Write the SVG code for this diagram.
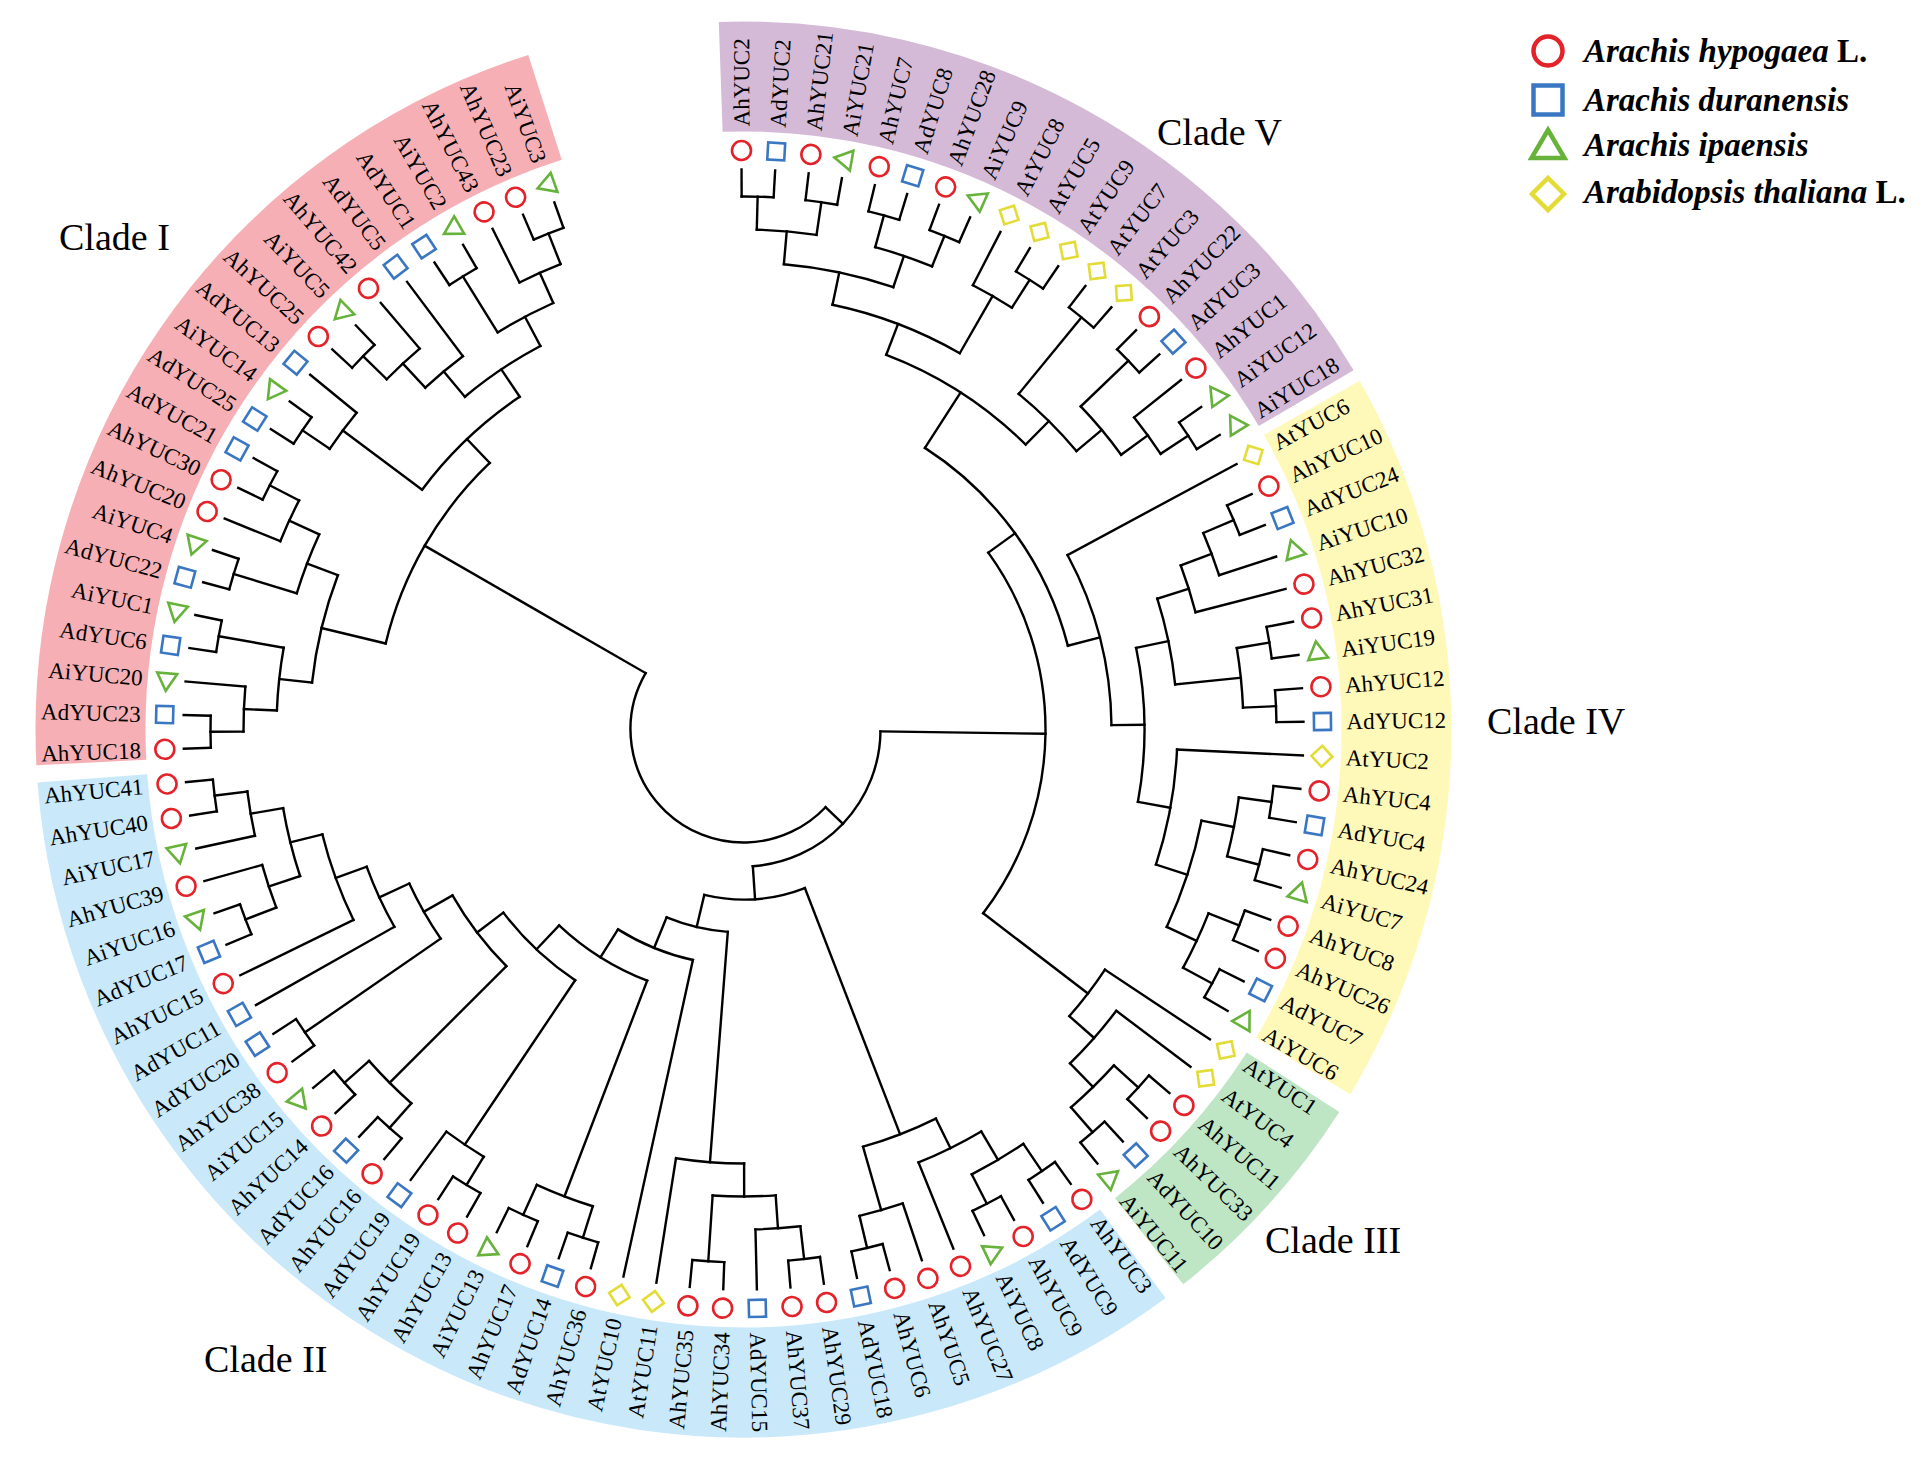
<svg xmlns="http://www.w3.org/2000/svg" width="1925" height="1458" viewBox="0 0 1925 1458">
<style>
.lb text{font-family:"Liberation Serif","Times New Roman",serif;font-size:23px;fill:#000}
.f{text-anchor:end}
.clade{font-family:"Liberation Serif","Times New Roman",serif;font-size:38px;fill:#000}
.leg{font-family:"Liberation Serif","Times New Roman",serif;font-size:33px;font-weight:bold;font-style:italic;fill:#000}
.band{fill:none;stroke-width:110}
</style>
<defs>
<line id="t" x1="533" x2="560"/>
<line id="t2" x1="500" x2="560"/>
<line id="u" x1="500" x2="533"/>
<line id="w" x1="467" x2="500"/>
<line id="x" x1="434" x2="467"/>
<line id="y" x1="401" x2="434"/>
<circle id="c1" r="533" pathLength="360" stroke-dasharray="3.44 360"/>
<circle id="c2a" r="500" pathLength="360" stroke-dasharray="6.88 360"/>
<circle id="c2b" r="500" pathLength="360" stroke-dasharray="5.16 360"/>
<circle id="sc" cx="579" r="9.5" fill="none" stroke="#E42229" stroke-width="2.6"/>
<rect id="ss" x="570.5" y="-8.5" width="17" height="17" fill="none" stroke="#3A77C2" stroke-width="2.6"/>
<polygon id="st" points="579,-11 589,6.5 569,6.5" fill="none" stroke="#66B23A" stroke-width="2.6"/>
<polygon id="sd" points="579,-10.5 589.5,0 579,10.5 568.5,0" fill="none" stroke="#E3DC36" stroke-width="2.6"/>
</defs>
<rect width="1925" height="1458" fill="#fff"/>
<g id="bands" transform="translate(743.5 729.5)">
<circle class="band" r="653" stroke="#D4BAD6" pathLength="360" stroke-dasharray="61.5 360" transform="rotate(-92)"/>
<circle class="band" r="653" stroke="#FFF9B9" pathLength="360" stroke-dasharray="60.5 360" transform="rotate(-29.5)"/>
<circle class="band" r="653" stroke="#BEE5C4" pathLength="360" stroke-dasharray="18.9 360" transform="rotate(32.7)"/>
<circle class="band" r="653" stroke="#C9E9FA" pathLength="360" stroke-dasharray="122.3 360" transform="rotate(53.4)"/>
<circle class="band" r="653" stroke="#F6B0B5" pathLength="360" stroke-dasharray="75.2 360" transform="rotate(177.1)"/>
</g>
<g id="branches" fill="none" stroke="#000" stroke-width="2.4" stroke-linecap="square" transform="translate(743.5 729.5)">
<use href="#t" transform="rotate(-90.20)"/><use href="#t" transform="rotate(-86.76)"/><use href="#t" transform="rotate(-83.32)"/><use href="#t" transform="rotate(-79.88)"/><use href="#t" transform="rotate(-76.44)"/><use href="#t" transform="rotate(-73.01)"/><use href="#t" transform="rotate(-69.57)"/><use href="#t" transform="rotate(-66.13)"/><use href="#t" transform="rotate(-59.25)"/><use href="#t" transform="rotate(-55.81)"/><use href="#t" transform="rotate(-52.37)"/><use href="#t" transform="rotate(-48.93)"/><use href="#t" transform="rotate(-45.49)"/><use href="#t" transform="rotate(-42.05)"/><use href="#t" transform="rotate(-35.18)"/><use href="#t" transform="rotate(-31.74)"/><use href="#t" transform="rotate(-24.86)"/><use href="#t" transform="rotate(-21.42)"/><use href="#t" transform="rotate(-11.10)"/><use href="#t" transform="rotate(-7.66)"/><use href="#t" transform="rotate(-4.23)"/><use href="#t" transform="rotate(-0.79)"/><use href="#t" transform="rotate(6.09)"/><use href="#t" transform="rotate(9.53)"/><use href="#t" transform="rotate(12.97)"/><use href="#t" transform="rotate(16.41)"/><use href="#t" transform="rotate(19.85)"/><use href="#t" transform="rotate(23.29)"/><use href="#t" transform="rotate(26.73)"/><use href="#t" transform="rotate(30.17)"/><use href="#t" transform="rotate(40.48)"/><use href="#t" transform="rotate(43.92)"/><use href="#t" transform="rotate(47.36)"/><use href="#t" transform="rotate(50.80)"/><use href="#t" transform="rotate(54.24)"/><use href="#t" transform="rotate(57.68)"/><use href="#t" transform="rotate(61.12)"/><use href="#t" transform="rotate(64.56)"/><use href="#t" transform="rotate(74.87)"/><use href="#t" transform="rotate(78.31)"/><use href="#t" transform="rotate(81.75)"/><use href="#t" transform="rotate(85.19)"/><use href="#t" transform="rotate(92.07)"/><use href="#t" transform="rotate(95.51)"/><use href="#t" transform="rotate(105.82)"/><use href="#t" transform="rotate(109.26)"/><use href="#t" transform="rotate(112.70)"/><use href="#t" transform="rotate(116.14)"/><use href="#t" transform="rotate(119.58)"/><use href="#t" transform="rotate(123.02)"/><use href="#t" transform="rotate(129.90)"/><use href="#t" transform="rotate(133.34)"/><use href="#t" transform="rotate(136.77)"/><use href="#t" transform="rotate(140.21)"/><use href="#t" transform="rotate(143.65)"/><use href="#t" transform="rotate(147.09)"/><use href="#t" transform="rotate(157.41)"/><use href="#t" transform="rotate(160.85)"/><use href="#t" transform="rotate(171.16)"/><use href="#t" transform="rotate(174.60)"/><use href="#t" transform="rotate(178.04)"/><use href="#t" transform="rotate(181.48)"/><use href="#t" transform="rotate(188.36)"/><use href="#t" transform="rotate(191.80)"/><use href="#t" transform="rotate(195.24)"/><use href="#t" transform="rotate(198.68)"/><use href="#t" transform="rotate(205.55)"/><use href="#t" transform="rotate(208.99)"/><use href="#t" transform="rotate(212.43)"/><use href="#t" transform="rotate(215.87)"/><use href="#t" transform="rotate(222.75)"/><use href="#t" transform="rotate(226.19)"/><use href="#t" transform="rotate(236.51)"/><use href="#t" transform="rotate(239.95)"/><use href="#t" transform="rotate(246.82)"/><use href="#t" transform="rotate(250.26)"/>
<use href="#t2" transform="rotate(-62.69)"/><use href="#t2" transform="rotate(-38.62)"/><use href="#t2" transform="rotate(-17.98)"/><use href="#t2" transform="rotate(71.43)"/><use href="#t2" transform="rotate(88.63)"/><use href="#t2" transform="rotate(126.46)"/><use href="#t2" transform="rotate(164.29)"/><use href="#t2" transform="rotate(167.73)"/><use href="#t2" transform="rotate(184.92)"/><use href="#t2" transform="rotate(202.12)"/><use href="#t2" transform="rotate(219.31)"/><use href="#t2" transform="rotate(229.63)"/><use href="#t2" transform="rotate(243.38)"/>
<line x1="368" x2="560" transform="rotate(-28.30)"/><line x1="467" x2="560" transform="rotate(-14.54)"/><line x1="434" x2="560" transform="rotate(2.65)"/><line x1="434" x2="560" transform="rotate(33.60)"/><line x1="467" x2="560" transform="rotate(37.04)"/><line x1="467" x2="560" transform="rotate(67.99)"/><line x1="434" x2="560" transform="rotate(98.95)"/><line x1="236" x2="560" transform="rotate(102.38)"/><line x1="401" x2="560" transform="rotate(150.53)"/><line x1="434" x2="560" transform="rotate(153.97)"/><line x1="467" x2="560" transform="rotate(233.07)"/>
<use href="#u" transform="rotate(-88.48)"/><use href="#u" transform="rotate(-81.60)"/><use href="#u" transform="rotate(-74.725)"/><use href="#u" transform="rotate(-67.85)"/><use href="#u" transform="rotate(-57.53)"/><use href="#u" transform="rotate(-33.46)"/><use href="#u" transform="rotate(-23.14)"/><use href="#u" transform="rotate(-9.38)"/><use href="#u" transform="rotate(-2.51)"/><use href="#u" transform="rotate(7.81)"/><use href="#u" transform="rotate(14.69)"/><use href="#u" transform="rotate(21.57)"/><use href="#u" transform="rotate(28.45)"/><use href="#u" transform="rotate(42.20)"/><use href="#u" transform="rotate(49.08)"/><use href="#u" transform="rotate(55.96)"/><use href="#u" transform="rotate(62.84)"/><use href="#u" transform="rotate(76.59)"/><use href="#u" transform="rotate(83.47)"/><use href="#u" transform="rotate(107.54)"/><use href="#u" transform="rotate(114.42)"/><use href="#u" transform="rotate(121.30)"/><use href="#u" transform="rotate(131.62)"/><use href="#u" transform="rotate(138.49)"/><use href="#u" transform="rotate(159.13)"/><use href="#u" transform="rotate(172.88)"/><use href="#u" transform="rotate(179.76)"/><use href="#u" transform="rotate(207.27)"/><use href="#u" transform="rotate(214.15)"/><use href="#u" transform="rotate(224.47)"/><use href="#u" transform="rotate(248.54)"/>
<line x1="434" x2="533" transform="rotate(-50.65)"/><line x1="467" x2="533" transform="rotate(-43.77)"/><line x1="467" x2="533" transform="rotate(93.79)"/><line x1="368" x2="533" transform="rotate(145.37)"/><line x1="467" x2="533" transform="rotate(190.08)"/><line x1="467" x2="533" transform="rotate(196.96)"/><line x1="467" x2="533" transform="rotate(238.23)"/>
<use href="#w" transform="rotate(-85.04)"/><use href="#w" transform="rotate(-71.29)"/><use href="#w" transform="rotate(-36.04)"/><use href="#w" transform="rotate(-20.56)"/><use href="#w" transform="rotate(11.25)"/><use href="#w" transform="rotate(25.01)"/><use href="#w" transform="rotate(45.64)"/><use href="#w" transform="rotate(59.40)"/><use href="#w" transform="rotate(86.05)"/><use href="#w" transform="rotate(161.71)"/><use href="#w" transform="rotate(170.305)"/><use href="#w" transform="rotate(182.34)"/><use href="#w" transform="rotate(204.695)"/><use href="#w" transform="rotate(227.05)"/><use href="#w" transform="rotate(245.96)"/>
<line x1="434" x2="500" transform="rotate(-60.11)"/><line x1="434" x2="500" transform="rotate(-5.945)"/><line x1="434" x2="500" transform="rotate(74.01)"/><line x1="269" x2="500" transform="rotate(110.98)"/><line x1="302" x2="500" transform="rotate(123.88)"/><line x1="335" x2="500" transform="rotate(135.055)"/><line x1="401" x2="500" transform="rotate(216.73)"/>
<use href="#x" transform="rotate(-78.165)"/><use href="#x" transform="rotate(-39.905)"/><use href="#x" transform="rotate(-17.55)"/><use href="#x" transform="rotate(18.13)"/><use href="#x" transform="rotate(41.34)"/><use href="#x" transform="rotate(63.695)"/><use href="#x" transform="rotate(89.92)"/><use href="#x" transform="rotate(166.01)"/><use href="#x" transform="rotate(186.21)"/><use href="#x" transform="rotate(200.83)"/><use href="#x" transform="rotate(230.06)"/><use href="#x" transform="rotate(242.095)"/>
<use href="#y" transform="rotate(-69.14)"/><use href="#y" transform="rotate(-45.28)"/><use href="#y" transform="rotate(-11.75)"/><use href="#y" transform="rotate(10.39)"/><use href="#y" transform="rotate(159.99)"/><use href="#y" transform="rotate(236.08)"/>
<line x1="302" x2="434" transform="rotate(37.47)"/><line x1="170" x2="434" transform="rotate(68.85)"/><line x1="203" x2="434" transform="rotate(94.435)"/><line x1="368" x2="434" transform="rotate(193.52)"/>
<line x1="335" x2="401" transform="rotate(-57.21)"/><line x1="368" x2="401" transform="rotate(-0.68)"/><line x1="368" x2="401" transform="rotate(155.26)"/><line x1="368" x2="401" transform="rotate(226.405)"/>
<line x1="335" x2="368" transform="rotate(-14.49)"/><line x1="335" x2="368" transform="rotate(150.315)"/><line x1="113" x2="368" transform="rotate(209.96)"/>
<line x1="302" x2="335" transform="rotate(-35.85)"/><line x1="302" x2="335" transform="rotate(142.685)"/>
<line x1="137" x2="302" transform="rotate(0.81)"/><line x1="269" x2="302" transform="rotate(133.28)"/>
<line x1="236" x2="269" transform="rotate(122.13)"/><line x1="203" x2="236" transform="rotate(112.255)"/><line x1="170" x2="203" transform="rotate(103.345)"/><line x1="137" x2="170" transform="rotate(86.10)"/><line x1="113" x2="137" transform="rotate(43.455)"/>
<use href="#c1" transform="rotate(-90.20)"/><use href="#c1" transform="rotate(-83.32)"/><use href="#c1" transform="rotate(-76.44)"/><use href="#c1" transform="rotate(-69.57)"/><use href="#c1" transform="rotate(-59.25)"/><use href="#c1" transform="rotate(-52.37)"/><use href="#c1" transform="rotate(-45.49)"/><use href="#c1" transform="rotate(-35.18)"/><use href="#c1" transform="rotate(-24.86)"/><use href="#c1" transform="rotate(-11.10)"/><use href="#c1" transform="rotate(-4.23)"/><use href="#c1" transform="rotate(6.09)"/><use href="#c1" transform="rotate(12.97)"/><use href="#c1" transform="rotate(19.85)"/><use href="#c1" transform="rotate(26.73)"/><use href="#c1" transform="rotate(40.48)"/><use href="#c1" transform="rotate(47.36)"/><use href="#c1" transform="rotate(54.24)"/><use href="#c1" transform="rotate(61.12)"/><use href="#c1" transform="rotate(74.87)"/><use href="#c1" transform="rotate(81.75)"/><use href="#c1" transform="rotate(92.07)"/><use href="#c1" transform="rotate(105.82)"/><use href="#c1" transform="rotate(112.70)"/><use href="#c1" transform="rotate(119.58)"/><use href="#c1" transform="rotate(129.90)"/><use href="#c1" transform="rotate(136.77)"/><use href="#c1" transform="rotate(143.65)"/><use href="#c1" transform="rotate(157.41)"/><use href="#c1" transform="rotate(171.16)"/><use href="#c1" transform="rotate(178.04)"/><use href="#c1" transform="rotate(188.36)"/><use href="#c1" transform="rotate(195.24)"/><use href="#c1" transform="rotate(205.55)"/><use href="#c1" transform="rotate(212.43)"/><use href="#c1" transform="rotate(222.75)"/><use href="#c1" transform="rotate(236.51)"/><use href="#c1" transform="rotate(246.82)"/>
<use href="#c2a" transform="rotate(-88.48)"/><use href="#c2a" transform="rotate(-74.725)"/><use href="#c2a" transform="rotate(-9.38)"/><use href="#c2a" transform="rotate(7.81)"/><use href="#c2a" transform="rotate(21.57)"/><use href="#c2a" transform="rotate(42.20)"/><use href="#c2a" transform="rotate(55.96)"/><use href="#c2a" transform="rotate(107.54)"/><use href="#c2a" transform="rotate(131.62)"/>
<use href="#c2b" transform="rotate(-62.69)"/><use href="#c2b" transform="rotate(-38.62)"/><use href="#c2b" transform="rotate(-23.14)"/><use href="#c2b" transform="rotate(71.43)"/><use href="#c2b" transform="rotate(83.47)"/><use href="#c2b" transform="rotate(121.30)"/><use href="#c2b" transform="rotate(159.13)"/><use href="#c2b" transform="rotate(167.73)"/><use href="#c2b" transform="rotate(179.76)"/><use href="#c2b" transform="rotate(202.12)"/><use href="#c2b" transform="rotate(214.15)"/><use href="#c2b" transform="rotate(224.47)"/><use href="#c2b" transform="rotate(243.38)"/>
<circle r="467" pathLength="360" stroke-dasharray="13.75 360" transform="rotate(-85.04)"/>
<circle r="467" pathLength="360" stroke-dasharray="7.73 360" transform="rotate(-43.77)"/>
<circle r="467" pathLength="360" stroke-dasharray="6.02 360" transform="rotate(-20.56)"/>
<circle r="467" pathLength="360" stroke-dasharray="13.76 360" transform="rotate(11.25)"/>
<circle r="467" pathLength="360" stroke-dasharray="8.60 360" transform="rotate(37.04)"/>
<circle r="467" pathLength="360" stroke-dasharray="8.59 360" transform="rotate(59.40)"/>
<circle r="467" pathLength="360" stroke-dasharray="7.74 360" transform="rotate(86.05)"/>
<circle r="467" pathLength="360" stroke-dasharray="8.595 360" transform="rotate(161.71)"/>
<circle r="467" pathLength="360" stroke-dasharray="7.74 360" transform="rotate(182.34)"/>
<circle r="467" pathLength="360" stroke-dasharray="7.735 360" transform="rotate(196.96)"/>
<circle r="467" pathLength="360" stroke-dasharray="6.02 360" transform="rotate(227.05)"/>
<circle r="467" pathLength="360" stroke-dasharray="7.73 360" transform="rotate(238.23)"/>
<circle r="434" pathLength="360" stroke-dasharray="18.055 360" transform="rotate(-78.165)"/>
<circle r="434" pathLength="360" stroke-dasharray="10.745 360" transform="rotate(-50.65)"/>
<circle r="434" pathLength="360" stroke-dasharray="11.605 360" transform="rotate(-17.55)"/>
<circle r="434" pathLength="360" stroke-dasharray="15.48 360" transform="rotate(2.65)"/>
<circle r="434" pathLength="360" stroke-dasharray="7.74 360" transform="rotate(33.60)"/>
<circle r="434" pathLength="360" stroke-dasharray="10.315 360" transform="rotate(63.695)"/>
<circle r="434" pathLength="360" stroke-dasharray="9.03 360" transform="rotate(89.92)"/>
<circle r="434" pathLength="360" stroke-dasharray="12.04 360" transform="rotate(153.97)"/>
<circle r="434" pathLength="360" stroke-dasharray="14.62 360" transform="rotate(186.21)"/>
<circle r="434" pathLength="360" stroke-dasharray="12.035 360" transform="rotate(230.06)"/>
<circle r="401" pathLength="360" stroke-dasharray="23.86 360" transform="rotate(-69.14)"/>
<circle r="401" pathLength="360" stroke-dasharray="22.14 360" transform="rotate(-11.75)"/>
<circle r="401" pathLength="360" stroke-dasharray="9.46 360" transform="rotate(150.53)"/>
<circle r="401" pathLength="360" stroke-dasharray="19.35 360" transform="rotate(216.73)"/>
<circle r="368" pathLength="360" stroke-dasharray="27.62 360" transform="rotate(-28.30)"/>
<circle r="368" pathLength="360" stroke-dasharray="9.89 360" transform="rotate(145.37)"/>
<circle r="368" pathLength="360" stroke-dasharray="32.885 360" transform="rotate(193.52)"/>
<circle r="335" pathLength="360" stroke-dasharray="42.72 360" transform="rotate(-57.21)"/>
<circle r="335" pathLength="360" stroke-dasharray="15.26 360" transform="rotate(135.055)"/>
<circle r="302" pathLength="360" stroke-dasharray="73.32 360" transform="rotate(-35.85)"/>
<circle r="302" pathLength="360" stroke-dasharray="18.805 360" transform="rotate(123.88)"/>
<circle r="269" pathLength="360" stroke-dasharray="22.30 360" transform="rotate(110.98)"/>
<circle r="236" pathLength="360" stroke-dasharray="19.75 360" transform="rotate(102.38)"/>
<circle r="203" pathLength="360" stroke-dasharray="17.82 360" transform="rotate(94.435)"/>
<circle r="170" pathLength="360" stroke-dasharray="34.495 360" transform="rotate(68.85)"/>
<circle r="137" pathLength="360" stroke-dasharray="85.29 360" transform="rotate(0.81)"/>
<circle r="113" pathLength="360" stroke-dasharray="166.505 360" transform="rotate(43.455)"/>
</g>
<g id="leaves" class="lb" transform="translate(743.5 729.5)">
<g id="k0" transform="rotate(-90.20)"><use href="#sc"/><text x="603" y="8">AhYUC2</text></g>
<g id="k1" transform="rotate(-86.76)"><use href="#ss"/><text x="603" y="8">AdYUC2</text></g>
<g id="k2" transform="rotate(-83.32)"><use href="#sc"/><text x="603" y="8">AhYUC21</text></g>
<g id="k3" transform="rotate(-79.88)"><use href="#st"/><text x="603" y="8">AiYUC21</text></g>
<g id="k4" transform="rotate(-76.44)"><use href="#sc"/><text x="603" y="8">AhYUC7</text></g>
<g id="k5" transform="rotate(-73.01)"><use href="#ss"/><text x="603" y="8">AdYUC8</text></g>
<g id="k6" transform="rotate(-69.57)"><use href="#sc"/><text x="603" y="8">AhYUC28</text></g>
<g id="k7" transform="rotate(-66.13)"><use href="#st"/><text x="603" y="8">AiYUC9</text></g>
<g id="k8" transform="rotate(-62.69)"><use href="#sd"/><text x="603" y="8">AtYUC8</text></g>
<g id="k9" transform="rotate(-59.25)"><use href="#sd"/><text x="603" y="8">AtYUC5</text></g>
<g id="k10" transform="rotate(-55.81)"><use href="#sd"/><text x="603" y="8">AtYUC9</text></g>
<g id="k11" transform="rotate(-52.37)"><use href="#sd"/><text x="603" y="8">AtYUC7</text></g>
<g id="k12" transform="rotate(-48.93)"><use href="#sd"/><text x="603" y="8">AtYUC3</text></g>
<g id="k13" transform="rotate(-45.49)"><use href="#sc"/><text x="603" y="8">AhYUC22</text></g>
<g id="k14" transform="rotate(-42.05)"><use href="#ss"/><text x="603" y="8">AdYUC3</text></g>
<g id="k15" transform="rotate(-38.62)"><use href="#sc"/><text x="603" y="8">AhYUC1</text></g>
<g id="k16" transform="rotate(-35.18)"><use href="#st"/><text x="603" y="8">AiYUC12</text></g>
<g id="k17" transform="rotate(-31.74)"><use href="#st"/><text x="603" y="8">AiYUC18</text></g>
<g id="k18" transform="rotate(-28.30)"><use href="#sd"/><text x="603" y="8">AtYUC6</text></g>
<g id="k19" transform="rotate(-24.86)"><use href="#sc"/><text x="603" y="8">AhYUC10</text></g>
<g id="k20" transform="rotate(-21.42)"><use href="#ss"/><text x="603" y="8">AdYUC24</text></g>
<g id="k21" transform="rotate(-17.98)"><use href="#st"/><text x="603" y="8">AiYUC10</text></g>
<g id="k22" transform="rotate(-14.54)"><use href="#sc"/><text x="603" y="8">AhYUC32</text></g>
<g id="k23" transform="rotate(-11.10)"><use href="#sc"/><text x="603" y="8">AhYUC31</text></g>
<g id="k24" transform="rotate(-7.66)"><use href="#st"/><text x="603" y="8">AiYUC19</text></g>
<g id="k25" transform="rotate(-4.23)"><use href="#sc"/><text x="603" y="8">AhYUC12</text></g>
<g id="k26" transform="rotate(-0.79)"><use href="#ss"/><text x="603" y="8">AdYUC12</text></g>
<g id="k27" transform="rotate(2.65)"><use href="#sd"/><text x="603" y="8">AtYUC2</text></g>
<g id="k28" transform="rotate(6.09)"><use href="#sc"/><text x="603" y="8">AhYUC4</text></g>
<g id="k29" transform="rotate(9.53)"><use href="#ss"/><text x="603" y="8">AdYUC4</text></g>
<g id="k30" transform="rotate(12.97)"><use href="#sc"/><text x="603" y="8">AhYUC24</text></g>
<g id="k31" transform="rotate(16.41)"><use href="#st"/><text x="603" y="8">AiYUC7</text></g>
<g id="k32" transform="rotate(19.85)"><use href="#sc"/><text x="603" y="8">AhYUC8</text></g>
<g id="k33" transform="rotate(23.29)"><use href="#sc"/><text x="603" y="8">AhYUC26</text></g>
<g id="k34" transform="rotate(26.73)"><use href="#ss"/><text x="603" y="8">AdYUC7</text></g>
<g id="k35" transform="rotate(30.17)"><use href="#st"/><text x="603" y="8">AiYUC6</text></g>
<g id="k36" transform="rotate(33.60)"><use href="#sd"/><text x="603" y="8">AtYUC1</text></g>
<g id="k37" transform="rotate(37.04)"><use href="#sd"/><text x="603" y="8">AtYUC4</text></g>
<g id="k38" transform="rotate(40.48)"><use href="#sc"/><text x="603" y="8">AhYUC11</text></g>
<g id="k39" transform="rotate(43.92)"><use href="#sc"/><text x="603" y="8">AhYUC33</text></g>
<g id="k40" transform="rotate(47.36)"><use href="#ss"/><text x="603" y="8">AdYUC10</text></g>
<g id="k41" transform="rotate(50.80)"><use href="#st"/><text x="603" y="8">AiYUC11</text></g>
<g id="k42" transform="rotate(54.24)"><use href="#sc"/><text x="603" y="8">AhYUC3</text></g>
<g id="k43" transform="rotate(57.68)"><use href="#ss"/><text x="603" y="8">AdYUC9</text></g>
<g id="k44" transform="rotate(61.12)"><use href="#sc"/><text x="603" y="8">AhYUC9</text></g>
<g id="k45" transform="rotate(64.56)"><use href="#st"/><text x="603" y="8">AiYUC8</text></g>
<g id="k46" transform="rotate(67.99)"><use href="#sc"/><text x="603" y="8">AhYUC27</text></g>
<g id="k47" transform="rotate(71.43)"><use href="#sc"/><text x="603" y="8">AhYUC5</text></g>
<g id="k48" transform="rotate(74.87)"><use href="#sc"/><text x="603" y="8">AhYUC6</text></g>
<g id="k49" transform="rotate(78.31)"><use href="#ss"/><text x="603" y="8">AdYUC18</text></g>
<g id="k50" transform="rotate(81.75)"><use href="#sc"/><text x="603" y="8">AhYUC29</text></g>
<g id="k51" transform="rotate(85.19)"><use href="#sc"/><text x="603" y="8">AhYUC37</text></g>
<g id="k52" transform="rotate(88.63)"><use href="#ss"/><text x="603" y="8">AdYUC15</text></g>
<g id="k53" transform="rotate(92.07)"><use href="#sc"/><text class="f" x="-603" y="8" transform="rotate(180)">AhYUC34</text></g>
<g id="k54" transform="rotate(95.51)"><use href="#sc"/><text class="f" x="-603" y="8" transform="rotate(180)">AhYUC35</text></g>
<g id="k55" transform="rotate(98.95)"><use href="#sd"/><text class="f" x="-603" y="8" transform="rotate(180)">AtYUC11</text></g>
<g id="k56" transform="rotate(102.38)"><use href="#sd"/><text class="f" x="-603" y="8" transform="rotate(180)">AtYUC10</text></g>
<g id="k57" transform="rotate(105.82)"><use href="#sc"/><text class="f" x="-603" y="8" transform="rotate(180)">AhYUC36</text></g>
<g id="k58" transform="rotate(109.26)"><use href="#ss"/><text class="f" x="-603" y="8" transform="rotate(180)">AdYUC14</text></g>
<g id="k59" transform="rotate(112.70)"><use href="#sc"/><text class="f" x="-603" y="8" transform="rotate(180)">AhYUC17</text></g>
<g id="k60" transform="rotate(116.14)"><use href="#st"/><text class="f" x="-603" y="8" transform="rotate(180)">AiYUC13</text></g>
<g id="k61" transform="rotate(119.58)"><use href="#sc"/><text class="f" x="-603" y="8" transform="rotate(180)">AhYUC13</text></g>
<g id="k62" transform="rotate(123.02)"><use href="#sc"/><text class="f" x="-603" y="8" transform="rotate(180)">AhYUC19</text></g>
<g id="k63" transform="rotate(126.46)"><use href="#ss"/><text class="f" x="-603" y="8" transform="rotate(180)">AdYUC19</text></g>
<g id="k64" transform="rotate(129.90)"><use href="#sc"/><text class="f" x="-603" y="8" transform="rotate(180)">AhYUC16</text></g>
<g id="k65" transform="rotate(133.34)"><use href="#ss"/><text class="f" x="-603" y="8" transform="rotate(180)">AdYUC16</text></g>
<g id="k66" transform="rotate(136.77)"><use href="#sc"/><text class="f" x="-603" y="8" transform="rotate(180)">AhYUC14</text></g>
<g id="k67" transform="rotate(140.21)"><use href="#st"/><text class="f" x="-603" y="8" transform="rotate(180)">AiYUC15</text></g>
<g id="k68" transform="rotate(143.65)"><use href="#sc"/><text class="f" x="-603" y="8" transform="rotate(180)">AhYUC38</text></g>
<g id="k69" transform="rotate(147.09)"><use href="#ss"/><text class="f" x="-603" y="8" transform="rotate(180)">AdYUC20</text></g>
<g id="k70" transform="rotate(150.53)"><use href="#ss"/><text class="f" x="-603" y="8" transform="rotate(180)">AdYUC11</text></g>
<g id="k71" transform="rotate(153.97)"><use href="#sc"/><text class="f" x="-603" y="8" transform="rotate(180)">AhYUC15</text></g>
<g id="k72" transform="rotate(157.41)"><use href="#ss"/><text class="f" x="-603" y="8" transform="rotate(180)">AdYUC17</text></g>
<g id="k73" transform="rotate(160.85)"><use href="#st"/><text class="f" x="-603" y="8" transform="rotate(180)">AiYUC16</text></g>
<g id="k74" transform="rotate(164.29)"><use href="#sc"/><text class="f" x="-603" y="8" transform="rotate(180)">AhYUC39</text></g>
<g id="k75" transform="rotate(167.73)"><use href="#st"/><text class="f" x="-603" y="8" transform="rotate(180)">AiYUC17</text></g>
<g id="k76" transform="rotate(171.16)"><use href="#sc"/><text class="f" x="-603" y="8" transform="rotate(180)">AhYUC40</text></g>
<g id="k77" transform="rotate(174.60)"><use href="#sc"/><text class="f" x="-603" y="8" transform="rotate(180)">AhYUC41</text></g>
<g id="k78" transform="rotate(178.04)"><use href="#sc"/><text class="f" x="-603" y="8" transform="rotate(180)">AhYUC18</text></g>
<g id="k79" transform="rotate(181.48)"><use href="#ss"/><text class="f" x="-603" y="8" transform="rotate(180)">AdYUC23</text></g>
<g id="k80" transform="rotate(184.92)"><use href="#st"/><text class="f" x="-603" y="8" transform="rotate(180)">AiYUC20</text></g>
<g id="k81" transform="rotate(188.36)"><use href="#ss"/><text class="f" x="-603" y="8" transform="rotate(180)">AdYUC6</text></g>
<g id="k82" transform="rotate(191.80)"><use href="#st"/><text class="f" x="-603" y="8" transform="rotate(180)">AiYUC1</text></g>
<g id="k83" transform="rotate(195.24)"><use href="#ss"/><text class="f" x="-603" y="8" transform="rotate(180)">AdYUC22</text></g>
<g id="k84" transform="rotate(198.68)"><use href="#st"/><text class="f" x="-603" y="8" transform="rotate(180)">AiYUC4</text></g>
<g id="k85" transform="rotate(202.12)"><use href="#sc"/><text class="f" x="-603" y="8" transform="rotate(180)">AhYUC20</text></g>
<g id="k86" transform="rotate(205.55)"><use href="#sc"/><text class="f" x="-603" y="8" transform="rotate(180)">AhYUC30</text></g>
<g id="k87" transform="rotate(208.99)"><use href="#ss"/><text class="f" x="-603" y="8" transform="rotate(180)">AdYUC21</text></g>
<g id="k88" transform="rotate(212.43)"><use href="#ss"/><text class="f" x="-603" y="8" transform="rotate(180)">AdYUC25</text></g>
<g id="k89" transform="rotate(215.87)"><use href="#st"/><text class="f" x="-603" y="8" transform="rotate(180)">AiYUC14</text></g>
<g id="k90" transform="rotate(219.31)"><use href="#ss"/><text class="f" x="-603" y="8" transform="rotate(180)">AdYUC13</text></g>
<g id="k91" transform="rotate(222.75)"><use href="#sc"/><text class="f" x="-603" y="8" transform="rotate(180)">AhYUC25</text></g>
<g id="k92" transform="rotate(226.19)"><use href="#st"/><text class="f" x="-603" y="8" transform="rotate(180)">AiYUC5</text></g>
<g id="k93" transform="rotate(229.63)"><use href="#sc"/><text class="f" x="-603" y="8" transform="rotate(180)">AhYUC42</text></g>
<g id="k94" transform="rotate(233.07)"><use href="#ss"/><text class="f" x="-603" y="8" transform="rotate(180)">AdYUC5</text></g>
<g id="k95" transform="rotate(236.51)"><use href="#ss"/><text class="f" x="-603" y="8" transform="rotate(180)">AdYUC1</text></g>
<g id="k96" transform="rotate(239.95)"><use href="#st"/><text class="f" x="-603" y="8" transform="rotate(180)">AiYUC2</text></g>
<g id="k97" transform="rotate(243.38)"><use href="#sc"/><text class="f" x="-603" y="8" transform="rotate(180)">AhYUC43</text></g>
<g id="k98" transform="rotate(246.82)"><use href="#sc"/><text class="f" x="-603" y="8" transform="rotate(180)">AhYUC23</text></g>
<g id="k99" transform="rotate(250.26)"><use href="#st"/><text class="f" x="-603" y="8" transform="rotate(180)">AiYUC3</text></g>
</g>
<g id="clade-labels" class="clade">
<text x="59" y="250">Clade I</text>
<text x="204" y="1372">Clade II</text>
<text x="1265" y="1253">Clade III</text>
<text x="1487" y="734">Clade IV</text>
<text x="1157" y="145">Clade V</text>
</g>
<g id="legend">
<circle cx="1548" cy="51" r="14.5" fill="none" stroke="#E42229" stroke-width="4.5"/>
<text class="leg" x="1584" y="62">Arachis hypogaea <tspan font-style="normal">L.</tspan></text>
<rect x="1533.5" y="85.5" width="29" height="29" fill="none" stroke="#3A77C2" stroke-width="4.5"/>
<text class="leg" x="1584" y="111">Arachis duranensis</text>
<polygon points="1548,130 1564.5,158 1531.5,158" fill="none" stroke="#66B23A" stroke-width="4.5"/>
<text class="leg" x="1584" y="156">Arachis ipaensis</text>
<polygon points="1548,178 1564,194 1548,210 1532,194" fill="none" stroke="#E3DC36" stroke-width="4.5"/>
<text class="leg" x="1584" y="203">Arabidopsis thaliana <tspan font-style="normal">L.</tspan></text>
</g>
</svg>
